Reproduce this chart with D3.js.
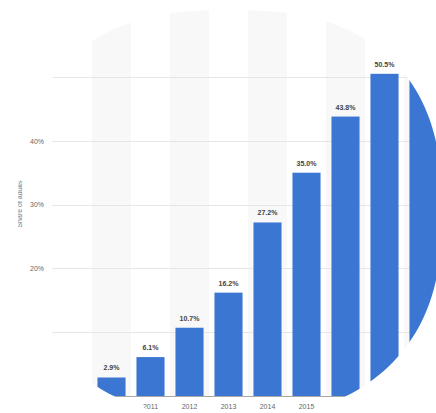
<html>
   <head>
      <meta charset="UTF-8">
      <title>Share of adults</title>
      <script src="https://d3js.org/d3.v7.min.js"></script>
      <style>
         body{
         margin: 0;
         background: #fff;
         }
         svg{
         display: block;
         font-family: "Liberation Sans", Arial, sans-serif;
         }
      </style>
   </head>
   <body>
      <svg width="436" height="413"></svg>
      <script type="text/javascript">
         // data
         var years = ["2010","2011","2012","2013","2014","2015","2016","2017","2018"];
         var shares = [2.9, 6.1, 10.7, 16.2, 27.2, 35.0, 43.8, 50.5, 56.0];
         var valueLabels = ["2.9%","6.1%","10.7%","16.2%","27.2%","35.0%","43.8%","50.5%",""];
         var yTicks = [10, 20, 30, 40, 50];

         var width = 436;
         var height = 413;
         var gridLeft = 52;

         var xScale = d3.scaleBand()
               .domain(years)
               .range([92, 443])
               .paddingInner(0.28)
               .paddingOuter(0.14);
         var yScale = d3.scaleLinear()
               .domain([0, 60])
               .range([396, 13.2]);

         var svg = d3.select("svg")
               .attr("width", width)
               .attr("height", height);

         // rounded window the chart is seen through
         var cx = 230, cy = 211, ra = 212, rbTop = 201, rbBottom = 207, n = 2.5;
         var shape = d3.range(0, 361, 2).map(function(t){
            var a = t * Math.PI / 180;
            var c = Math.cos(a), s = Math.sin(a);
            var rb = s > 0 ? rbTop + (rbBottom - rbTop) * Math.pow(s, 4) : rbTop;
            return [cx + ra * Math.sign(c) * Math.pow(Math.abs(c), 2 / n),
                    cy + rb * Math.sign(s) * Math.pow(Math.abs(s), 2 / n)];
         });
         svg.append("clipPath")
            .attr("id", "win")
            .append("path")
            .attr("d", d3.line()(shape) + "Z");

         var plot = svg.append("g")
               .attr("clip-path", "url(#win)");

         // alternate column shading
         plot.selectAll("rect.stripe")
            .data(years.filter(function(d, i){ return i % 2 == 0; }))
            .enter()
            .append("rect")
            .classed("stripe", true)
            .attr("x", function(d){ return xScale(d) - xScale.step() * 0.14; })
            .attr("y", 0)
            .attr("width", xScale.step())
            .attr("height", yScale(0))
            .attr("fill", "#f8f8f8");

         // grid
         plot.selectAll("line.grid")
            .data(yTicks)
            .enter()
            .append("line")
            .classed("grid", true)
            .attr("x1", gridLeft)
            .attr("x2", width)
            .attr("y1", function(d){ return Math.round(yScale(d)) + 0.5; })
            .attr("y2", function(d){ return Math.round(yScale(d)) + 0.5; })
            .attr("stroke", "#e6e6e6")
            .attr("stroke-width", 1);

         var yAxis = d3.axisLeft(yScale)
               .tickValues(yTicks)
               .tickSize(0)
               .tickPadding(0)
               .tickFormat(function(d){ return d + "%"; });

         plot.append("g")
            .attr("transform", "translate(44,0)")
            .call(yAxis)
            .call(function(g){ g.select(".domain").remove(); })
            .selectAll("text")
            .attr("font-size", 7)
            .attr("fill", "#666");

         plot.append("text")
            .attr("transform", "translate(22,204) rotate(-90)")
            .attr("text-anchor", "middle")
            .attr("font-size", 7)
            .attr("fill", "#777")
            .text("Share of adults");

         // bars
         plot.selectAll("rect.bar")
            .data(shares)
            .enter()
            .append("rect")
            .classed("bar", true)
            .attr("x", function(d, i){ return xScale(years[i]); })
            .attr("y", function(d){ return yScale(d); })
            .attr("width", xScale.bandwidth())
            .attr("height", function(d){ return yScale(0) - yScale(d); })
            .attr("fill", "#3b76d3");

         plot.selectAll("text.val")
            .data(shares)
            .enter()
            .append("text")
            .classed("val", true)
            .attr("x", function(d, i){ return xScale(years[i]) + xScale.bandwidth() / 2; })
            .attr("y", function(d){ return yScale(d) - 7; })
            .attr("text-anchor", "middle")
            .attr("font-size", 7)
            .attr("font-weight", "bold")
            .attr("fill", "#444")
            .text(function(d, i){ return valueLabels[i]; });

         // baseline and years
         plot.append("line")
            .attr("x1", gridLeft)
            .attr("x2", width)
            .attr("y1", yScale(0) + 0.5)
            .attr("y2", yScale(0) + 0.5)
            .attr("stroke", "#a8a8a8");

         var xAxis = d3.axisBottom(xScale)
               .tickSize(0)
               .tickPadding(8);

         plot.append("g")
            .attr("transform", "translate(0," + yScale(0) + ")")
            .call(xAxis)
            .call(function(g){ g.select(".domain").remove(); })
            .selectAll("text")
            .attr("font-size", 7)
            .attr("fill", "#666");
      </script>
   </body>
</html>
